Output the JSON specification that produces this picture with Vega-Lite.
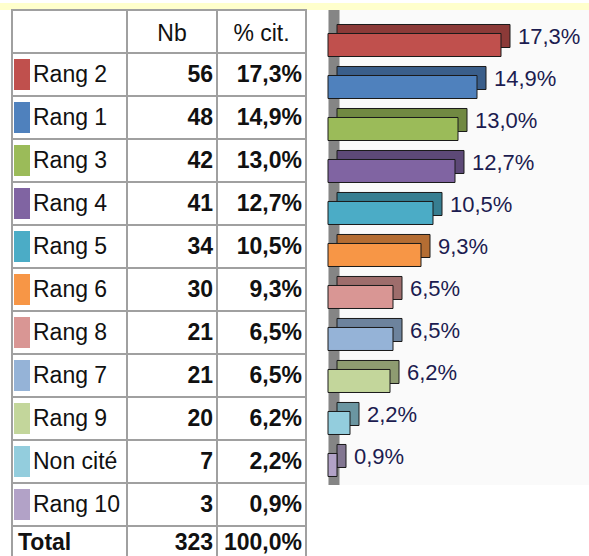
{
  "$schema": "https://vega.github.io/schema/vega-lite/v6.json",
  "padding": 0,
  "background": "white",
  "bounds": "flush",
  "config": {
    "locale": {"number": {"decimal": ",", "thousands": " ", "grouping": [3], "currency": ["", " €"]}},
    "font": "Liberation Sans",
    "text": {"font": "Liberation Sans"}
  },
  "datasets": {
    "table": [
      {"rang": "Rang 2", "nb": 56, "pct": 0.173},
      {"rang": "Rang 1", "nb": 48, "pct": 0.149},
      {"rang": "Rang 3", "nb": 42, "pct": 0.130},
      {"rang": "Rang 4", "nb": 41, "pct": 0.127},
      {"rang": "Rang 5", "nb": 34, "pct": 0.105},
      {"rang": "Rang 6", "nb": 30, "pct": 0.093},
      {"rang": "Rang 8", "nb": 21, "pct": 0.065},
      {"rang": "Rang 7", "nb": 21, "pct": 0.065},
      {"rang": "Rang 9", "nb": 20, "pct": 0.062},
      {"rang": "Non cité", "nb": 7, "pct": 0.022},
      {"rang": "Rang 10", "nb": 3, "pct": 0.009},
      {"rang": "Total", "nb": 323, "pct": 1.0}
    ]
  },
  "spacing": -2,
  "vconcat": [
    {
      "width": 589, "height": 7,
      "view": {"fill": "#FFFFCC", "stroke": null},
      "data": {"values": [{}]},
      "mark": {"type": "text", "text": ""}
    },
    {
      "spacing": 0,
      "bounds": "flush",
      "hconcat": [
        {
          "width": 12, "height": 550,
          "view": {"stroke": null},
          "data": {"values": []},
          "mark": "point"
        },
        {
          "width": 115, "height": 550,
          "view": {"stroke": "#A0A0A0", "strokeWidth": 2, "fill": "white"},
          "data": {"name": "table"},
          "layer": [
            {
              "mark": {"type": "rule", "color": "#A0A0A0", "strokeWidth": 2},
              "encoding": {"y": {"field": "rang", "type": "nominal", "axis": null, "bandPosition": 0, "scale": {"type": "band", "domain": ["header", "Rang 2", "Rang 1", "Rang 3", "Rang 4", "Rang 5", "Rang 6", "Rang 8", "Rang 7", "Rang 9", "Non cité", "Rang 10", "Total"], "range": [0, 559], "paddingInner": 0, "paddingOuter": 0}}}
            },
            {
              "transform": [{"filter": "datum.rang !== 'Total'"}],
              "mark": {"type": "tick", "orient": "vertical", "thickness": 16, "size": 31, "opacity": 1, "xOffset": -47.5},
              "encoding": {
                "y": {"field": "rang", "type": "nominal", "axis": null, "bandPosition": 0.5, "scale": {"type": "band", "domain": ["header", "Rang 2", "Rang 1", "Rang 3", "Rang 4", "Rang 5", "Rang 6", "Rang 8", "Rang 7", "Rang 9", "Non cité", "Rang 10", "Total"], "range": [0, 559], "paddingInner": 0, "paddingOuter": 0}},
                "color": {"field": "rang", "type": "nominal", "legend": null, "scale": {"domain": ["Rang 2", "Rang 1", "Rang 3", "Rang 4", "Rang 5", "Rang 6", "Rang 8", "Rang 7", "Rang 9", "Non cité", "Rang 10"], "range": ["#C0504D", "#4F81BD", "#9BBB59", "#8064A2", "#4BACC6", "#F79646", "#D99694", "#95B3D7", "#C3D69B", "#93CDDD", "#B2A2C7"]}}
              }
            },
            {
              "transform": [{"filter": "datum.rang !== 'Total'"}],
              "mark": {"type": "text", "align": "left", "baseline": "middle", "dx": -36.5, "fontSize": 23, "color": "#111111"},
              "encoding": {
                "y": {"field": "rang", "type": "nominal", "axis": null, "bandPosition": 0.5, "scale": {"type": "band", "domain": ["header", "Rang 2", "Rang 1", "Rang 3", "Rang 4", "Rang 5", "Rang 6", "Rang 8", "Rang 7", "Rang 9", "Non cité", "Rang 10", "Total"], "range": [0, 559], "paddingInner": 0, "paddingOuter": 0}},
                "text": {"field": "rang", "type": "nominal"}
              }
            },
            {
              "transform": [{"filter": "datum.rang === 'Total'"}],
              "mark": {"type": "text", "align": "left", "baseline": "middle", "dx": -51.5, "dy": -5, "fontSize": 23, "fontWeight": "bold", "color": "#111111"},
              "encoding": {
                "y": {"field": "rang", "type": "nominal", "axis": null, "bandPosition": 0.5, "scale": {"type": "band", "domain": ["header", "Rang 2", "Rang 1", "Rang 3", "Rang 4", "Rang 5", "Rang 6", "Rang 8", "Rang 7", "Rang 9", "Non cité", "Rang 10", "Total"], "range": [0, 559], "paddingInner": 0, "paddingOuter": 0}},
                "text": {"field": "rang", "type": "nominal"}
              }
            }
          ]
        },
        {
          "width": 90, "height": 550,
          "view": {"stroke": "#A0A0A0", "strokeWidth": 2, "fill": "white"},
          "data": {"name": "table"},
          "layer": [
            {
              "mark": {"type": "rule", "color": "#A0A0A0", "strokeWidth": 2},
              "encoding": {"y": {"field": "rang", "type": "nominal", "axis": null, "bandPosition": 0, "scale": {"type": "band", "domain": ["header", "Rang 2", "Rang 1", "Rang 3", "Rang 4", "Rang 5", "Rang 6", "Rang 8", "Rang 7", "Rang 9", "Non cité", "Rang 10", "Total"], "range": [0, 559], "paddingInner": 0, "paddingOuter": 0}}}
            },
            {
              "data": {"values": [{"rang": "header"}]},
              "mark": {"type": "text", "text": "Nb", "align": "center", "baseline": "middle", "dy": 2, "fontSize": 23, "color": "#111111"},
              "encoding": {"y": {"field": "rang", "type": "nominal", "axis": null, "bandPosition": 0.5, "scale": {"type": "band", "domain": ["header", "Rang 2", "Rang 1", "Rang 3", "Rang 4", "Rang 5", "Rang 6", "Rang 8", "Rang 7", "Rang 9", "Non cité", "Rang 10", "Total"], "range": [0, 559], "paddingInner": 0, "paddingOuter": 0}}}
            },
            {
              "transform": [{"filter": "datum.rang !== 'Total'"}],
              "mark": {"type": "text", "align": "right", "baseline": "middle", "dx": 41, "fontSize": 23, "fontWeight": "bold", "color": "#111111"},
              "encoding": {
                "y": {"field": "rang", "type": "nominal", "axis": null, "bandPosition": 0.5, "scale": {"type": "band", "domain": ["header", "Rang 2", "Rang 1", "Rang 3", "Rang 4", "Rang 5", "Rang 6", "Rang 8", "Rang 7", "Rang 9", "Non cité", "Rang 10", "Total"], "range": [0, 559], "paddingInner": 0, "paddingOuter": 0}},
                "text": {"field": "nb", "type": "quantitative", "format": "d"}
              }
            },
            {
              "transform": [{"filter": "datum.rang === 'Total'"}],
              "mark": {"type": "text", "align": "right", "baseline": "middle", "dx": 41, "dy": -5, "fontSize": 23, "fontWeight": "bold", "color": "#111111"},
              "encoding": {
                "y": {"field": "rang", "type": "nominal", "axis": null, "bandPosition": 0.5, "scale": {"type": "band", "domain": ["header", "Rang 2", "Rang 1", "Rang 3", "Rang 4", "Rang 5", "Rang 6", "Rang 8", "Rang 7", "Rang 9", "Non cité", "Rang 10", "Total"], "range": [0, 559], "paddingInner": 0, "paddingOuter": 0}},
                "text": {"field": "nb", "type": "quantitative", "format": "d"}
              }
            }
          ]
        },
        {
          "width": 89, "height": 550,
          "view": {"stroke": "#A0A0A0", "strokeWidth": 2, "fill": "white"},
          "data": {"name": "table"},
          "layer": [
            {
              "mark": {"type": "rule", "color": "#A0A0A0", "strokeWidth": 2},
              "encoding": {"y": {"field": "rang", "type": "nominal", "axis": null, "bandPosition": 0, "scale": {"type": "band", "domain": ["header", "Rang 2", "Rang 1", "Rang 3", "Rang 4", "Rang 5", "Rang 6", "Rang 8", "Rang 7", "Rang 9", "Non cité", "Rang 10", "Total"], "range": [0, 559], "paddingInner": 0, "paddingOuter": 0}}}
            },
            {
              "data": {"values": [{"rang": "header"}]},
              "mark": {"type": "text", "text": "% cit.", "align": "center", "baseline": "middle", "dy": 2, "fontSize": 23, "color": "#111111"},
              "encoding": {"y": {"field": "rang", "type": "nominal", "axis": null, "bandPosition": 0.5, "scale": {"type": "band", "domain": ["header", "Rang 2", "Rang 1", "Rang 3", "Rang 4", "Rang 5", "Rang 6", "Rang 8", "Rang 7", "Rang 9", "Non cité", "Rang 10", "Total"], "range": [0, 559], "paddingInner": 0, "paddingOuter": 0}}}
            },
            {
              "transform": [{"filter": "datum.rang !== 'Total'"}],
              "mark": {"type": "text", "align": "right", "baseline": "middle", "dx": 40.5, "fontSize": 23, "fontWeight": "bold", "color": "#111111"},
              "encoding": {
                "y": {"field": "rang", "type": "nominal", "axis": null, "bandPosition": 0.5, "scale": {"type": "band", "domain": ["header", "Rang 2", "Rang 1", "Rang 3", "Rang 4", "Rang 5", "Rang 6", "Rang 8", "Rang 7", "Rang 9", "Non cité", "Rang 10", "Total"], "range": [0, 559], "paddingInner": 0, "paddingOuter": 0}},
                "text": {"field": "pct", "type": "quantitative", "format": ".1%"}
              }
            },
            {
              "transform": [{"filter": "datum.rang === 'Total'"}],
              "mark": {"type": "text", "align": "right", "baseline": "middle", "dx": 40.5, "dy": -5, "fontSize": 23, "fontWeight": "bold", "color": "#111111"},
              "encoding": {
                "y": {"field": "rang", "type": "nominal", "axis": null, "bandPosition": 0.5, "scale": {"type": "band", "domain": ["header", "Rang 2", "Rang 1", "Rang 3", "Rang 4", "Rang 5", "Rang 6", "Rang 8", "Rang 7", "Rang 9", "Non cité", "Rang 10", "Total"], "range": [0, 559], "paddingInner": 0, "paddingOuter": 0}},
                "text": {"field": "pct", "type": "quantitative", "format": ".1%"}
              }
            }
          ]
        },
        {
          "width": 22, "height": 550,
          "view": {"stroke": null},
          "data": {"values": []},
          "mark": "point"
        },
        {
          "width": 261, "height": 475,
          "view": {"fill": "#FAFAFA", "stroke": null},
          "data": {"name": "table"},
          "transform": [{"filter": "datum.rang !== 'Total'"}],
          "layer": [
            {
              "data": {"values": [{}]},
              "mark": {"type": "rule", "color": "#858585", "strokeWidth": 11, "xOffset": 6},
              "encoding": {"x": {"datum": 0, "type": "quantitative", "axis": null, "scale": {"domain": [0, 0.261], "nice": false, "zero": true}}}
            },
            {
              "mark": {"type": "bar", "xOffset": 9, "yOffset": -9, "stroke": "#1A1A1A", "strokeWidth": 1},
              "encoding": {
                "x": {"field": "pct", "type": "quantitative", "axis": null, "scale": {"domain": [0, 0.261], "nice": false, "zero": true}},
                "y": {"field": "rang", "type": "nominal", "axis": null, "scale": {"type": "band", "domain": ["Rang 2", "Rang 1", "Rang 3", "Rang 4", "Rang 5", "Rang 6", "Rang 8", "Rang 7", "Rang 9", "Non cité", "Rang 10"], "paddingInner": 0.452, "paddingOuter": 0.381, "align": 0.734}},
                "fill": {"field": "rang", "type": "nominal", "legend": null, "scale": {"domain": ["Rang 2", "Rang 1", "Rang 3", "Rang 4", "Rang 5", "Rang 6", "Rang 8", "Rang 7", "Rang 9", "Non cité", "Rang 10"], "range": ["#8C3A38", "#3A5E8A", "#718942", "#5D4977", "#377E91", "#B46D33", "#9E6D6C", "#6D839D", "#8E9C71", "#6B96A1", "#827691"]}}
              }
            },
            {
              "mark": {"type": "bar", "stroke": "#1A1A1A", "strokeWidth": 1},
              "encoding": {
                "x": {"field": "pct", "type": "quantitative", "axis": null, "scale": {"domain": [0, 0.261], "nice": false, "zero": true}},
                "y": {"field": "rang", "type": "nominal", "axis": null, "scale": {"type": "band", "domain": ["Rang 2", "Rang 1", "Rang 3", "Rang 4", "Rang 5", "Rang 6", "Rang 8", "Rang 7", "Rang 9", "Non cité", "Rang 10"], "paddingInner": 0.452, "paddingOuter": 0.381, "align": 0.734}},
                "color": {"field": "rang", "type": "nominal", "legend": null, "scale": {"domain": ["Rang 2", "Rang 1", "Rang 3", "Rang 4", "Rang 5", "Rang 6", "Rang 8", "Rang 7", "Rang 9", "Non cité", "Rang 10"], "range": ["#C0504D", "#4F81BD", "#9BBB59", "#8064A2", "#4BACC6", "#F79646", "#D99694", "#95B3D7", "#C3D69B", "#93CDDD", "#B2A2C7"]}}
              }
            },
            {
              "mark": {"type": "text", "align": "left", "baseline": "middle", "dx": 17, "dy": -8, "fontSize": 22, "color": "#1C1C50"},
              "encoding": {
                "x": {"field": "pct", "type": "quantitative", "axis": null, "scale": {"domain": [0, 0.261], "nice": false, "zero": true}},
                "y": {"field": "rang", "type": "nominal", "axis": null, "bandPosition": 0.5, "scale": {"type": "band", "domain": ["Rang 2", "Rang 1", "Rang 3", "Rang 4", "Rang 5", "Rang 6", "Rang 8", "Rang 7", "Rang 9", "Non cité", "Rang 10"], "paddingInner": 0.452, "paddingOuter": 0.381, "align": 0.734}},
                "text": {"field": "pct", "type": "quantitative", "format": ".1%"}
              }
            }
          ]
        }
      ]
    }
  ]
}
